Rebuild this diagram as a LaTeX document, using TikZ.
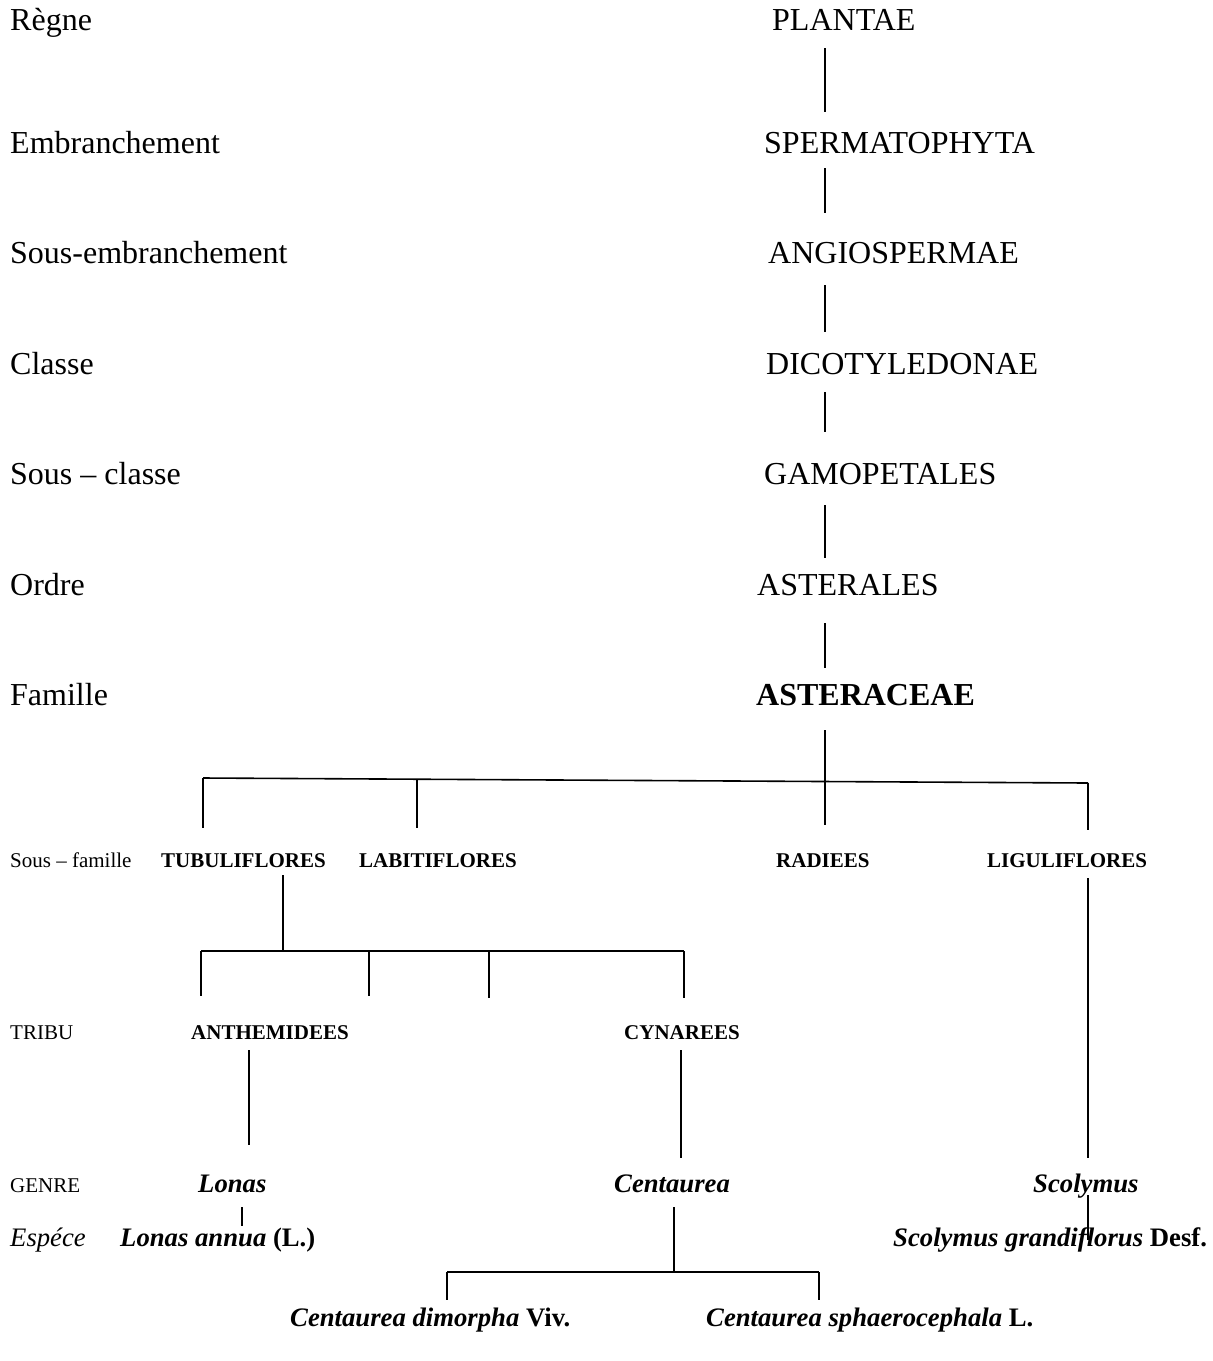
\documentclass[tikz,border=0pt]{standalone}
\usepackage{fontspec}
\setmainfont{Liberation Serif}
\begin{document}
\begin{tikzpicture}[x=1pt,y=-1pt,
  big/.style={font=\fontsize{32}{36}\selectfont, anchor=base west, inner sep=0pt},
  bigb/.style={big, font=\fontsize{32}{36}\selectfont\bfseries},
  small/.style={font=\fontsize{21}{25}\selectfont, anchor=base west, inner sep=0pt},
  smallb/.style={small, font=\fontsize{21}{25}\selectfont\bfseries},
  gen/.style={font=\fontsize{26.7}{30}\selectfont\bfseries\itshape, anchor=base west, inner sep=0pt},
  spc/.style={font=\fontsize{26.7}{30}\selectfont, anchor=base west, inner sep=0pt},
  ln/.style={line width=1.6pt}]
\useasboundingbox (0,0) rectangle (1213,1361);
% left rank labels
\node[big] (lregne) at (10,30) {Règne};
\node[big] (lemb) at (10,153) {Embranchement};
\node[big] (lsemb) at (10,263) {Sous-embranchement};
\node[big] (lclasse) at (10,374) {Classe};
\node[big] (lsclasse) at (10,484) {Sous – classe};
\node[big] (lordre) at (10,595) {Ordre};
\node[big] (lfam) at (10,705) {Famille};
\node[small] (lsfam) at (10,867) {Sous – famille};
\node[small] (ltribu) at (10,1039) {TRIBU};
\node[small] (lgenre) at (10,1192) {GENRE};
\node[spc] (lesp) at (10,1246) {\itshape Espéce};
% main column
\node[big] (plantae) at (772,30) {PLANTAE};
\node[big] (sperm) at (764,153) {SPERMATOPHYTA};
\node[big] (angio) at (768,263) {ANGIOSPERMAE};
\node[big] (dico) at (766,374) {DICOTYLEDONAE};
\node[big] (gamo) at (764,484) {GAMOPETALES};
\node[big] (asterales) at (757,595) {ASTERALES};
\node[bigb] (asteraceae) at (756,705) {ASTERACEAE};
% sub-families
\node[smallb] (tubu) at (161,867) {TUBULIFLORES};
\node[smallb] (labi) at (359,867) {LABITIFLORES};
\node[smallb] (radi) at (776,867) {RADIEES};
\node[smallb] (ligu) at (987,867) {LIGULIFLORES};
% tribes
\node[smallb] (anth) at (191,1039) {ANTHEMIDEES};
\node[smallb] (cyna) at (624,1039) {CYNAREES};
% genera
\node[gen] (lonas) at (198,1192) {Lonas};
\node[gen] (centa) at (614,1192) {Centaurea};
\node[gen] (scoly) at (1033,1192) {Scolymus};
% species
\node[spc] (lannua) at (120,1246) {\textbf{\textit{Lonas annua}} \textbf{(L.)}};
\node[spc] (sgrand) at (893,1246) {\textbf{\textit{Scolymus grandiflorus}} \textbf{Desf.}};
\node[spc] (cdimo) at (290,1326) {\textbf{\textit{Centaurea dimorpha}} \textbf{Viv.}};
\node[spc] (csphae) at (706,1326) {\textbf{\textit{Centaurea sphaerocephala}} \textbf{L.}};
% coordinates for connector ends
\coordinate (v1a) at (825,48);  \coordinate (v1b) at (825,112);
\coordinate (v2a) at (825,168); \coordinate (v2b) at (825,213);
\coordinate (v3a) at (825,285); \coordinate (v3b) at (825,332);
\coordinate (v4a) at (825,392); \coordinate (v4b) at (825,432);
\coordinate (v5a) at (825,505); \coordinate (v5b) at (825,558);
\coordinate (v6a) at (825,623); \coordinate (v6b) at (825,668);
\coordinate (v7a) at (825,730); \coordinate (v7b) at (825,825);
\coordinate (h1l) at (203,778); \coordinate (h1m) at (417,779);
\coordinate (h1r) at (1088,783);
\coordinate (t1) at (203,828); \coordinate (t2) at (417,828);
\coordinate (t4) at (1088,830);
\coordinate (tu1) at (283,875); \coordinate (tu2) at (283,951);
\coordinate (h2l) at (201,951); \coordinate (h2r) at (684,951);
\coordinate (b1t) at (369,951); \coordinate (b2t) at (489,951);
\coordinate (b0) at (201,996); \coordinate (b1) at (369,996);
\coordinate (b2) at (489,998); \coordinate (b3) at (684,998);
\coordinate (an1) at (249,1050); \coordinate (an2) at (249,1145);
\coordinate (cy1) at (681,1050); \coordinate (cy2) at (681,1158);
\coordinate (li1) at (1088,878); \coordinate (li2) at (1088,1158);
\coordinate (lo1) at (242,1207); \coordinate (lo2) at (242,1226);
\coordinate (sc1) at (1088,1195); \coordinate (sc2) at (1088,1240);
\coordinate (ce1) at (674,1207); \coordinate (ce2) at (674,1272);
\coordinate (h3l) at (447,1272); \coordinate (h3r) at (819,1272);
\coordinate (d1) at (447,1300); \coordinate (d2) at (819,1300);
% connectors
\draw[ln] (v1a) -- (v1b);
\draw[ln] (v2a) -- (v2b);
\draw[ln] (v3a) -- (v3b);
\draw[ln] (v4a) -- (v4b);
\draw[ln] (v5a) -- (v5b);
\draw[ln] (v6a) -- (v6b);
\draw[ln] (v7a) -- (v7b);
\draw[ln] (h1l) -- (h1r);
\draw[ln] (h1l) -- (t1);
\draw[ln] (h1m) -- (t2);
\draw[ln] (h1r) -- (t4);
\draw[ln] (tu1) -- (tu2);
\draw[ln] (h2l) -- (h2r);
\draw[ln] (h2l) -- (b0);
\draw[ln] (b1t) -- (b1);
\draw[ln] (b2t) -- (b2);
\draw[ln] (h2r) -- (b3);
\draw[ln] (an1) -- (an2);
\draw[ln] (cy1) -- (cy2);
\draw[ln] (li1) -- (li2);
\draw[ln] (lo1) -- (lo2);
\draw[ln] (sc1) -- (sc2);
\draw[ln] (ce1) -- (ce2);
\draw[ln] (h3l) -- (h3r);
\draw[ln] (h3l) -- (d1);
\draw[ln] (h3r) -- (d2);
\end{tikzpicture}
\end{document}
